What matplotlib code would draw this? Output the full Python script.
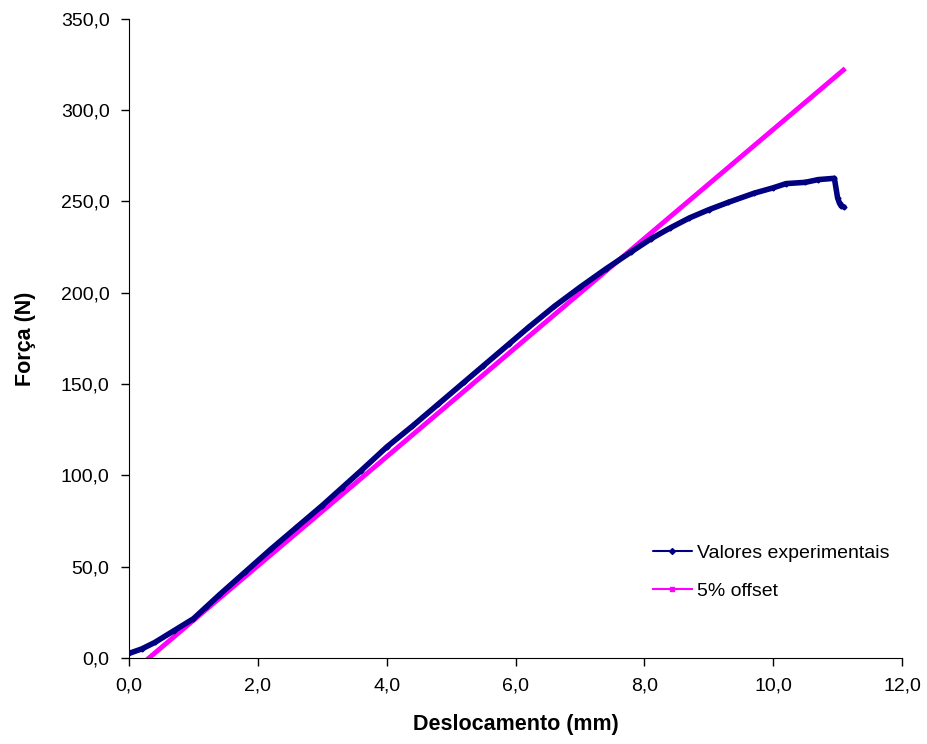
import matplotlib
matplotlib.use("Agg")
import matplotlib.pyplot as plt
from matplotlib.ticker import FuncFormatter

plt.rcParams['font.family'] = ['Liberation Sans', 'DejaVu Sans']

desloc = [0.0, 0.2, 0.4, 0.7, 1.0, 1.2, 1.4, 1.8, 2.2, 2.6, 3.0, 3.3, 3.6, 4.0,
          4.4, 4.8, 5.2, 5.5, 5.9, 6.2, 6.6, 7.0, 7.4, 7.8, 8.1, 8.4, 8.7, 9.0,
          9.3, 9.7, 10.0, 10.2, 10.5, 10.7, 10.95, 11.0, 11.03, 11.06, 11.1]
forca = [2.5, 5.0, 8.5, 15.0, 21.5, 28.0, 34.5, 47.0, 59.5, 71.5, 83.5, 93.0,
         102.5, 115.5, 127.0, 139.0, 151.0, 160.0, 172.0, 181.0, 192.5, 203.0,
         213.0, 222.5, 229.5, 235.5, 241.0, 245.5, 249.5, 254.5, 257.5, 259.8,
         260.5, 262.0, 262.7, 252.0, 249.0, 247.5, 247.0]

# reta 5% offset
offset_x = [0.31, 11.09]
offset_y = [0.0, 322.0]

fig = plt.figure(figsize=(9.28, 7.44), dpi=100)
ax = fig.add_axes([0.139, 0.1156, 0.833, 0.859])

ax.plot(desloc, forca, color="#000080", lw=4, marker="D", ms=2.5,
        solid_capstyle="round", solid_joinstyle="round",
        label="Valores experimentais", zorder=3)
ax.plot(offset_x, offset_y, color="#FF00FF", lw=3.5, marker="s", ms=2,
        label="5% offset", zorder=2)

ax.set_xlim(0, 12)
ax.set_ylim(0, 350)
ax.set_xticks(range(0, 13, 2))
ax.set_yticks(range(0, 351, 50))
fmt = FuncFormatter(lambda v, p: f"{v:.1f}".replace(".", ","))
ax.xaxis.set_major_formatter(fmt)
ax.yaxis.set_major_formatter(fmt)
ax.tick_params(direction="out", length=6, width=1, labelsize=14, pad=8)

for s in ["top", "right"]:
    ax.spines[s].set_visible(False)

ax.set_xlabel("Deslocamento (mm)", fontsize=15.5, fontweight="bold", labelpad=14)
ax.set_ylabel("Força (N)", fontsize=15.5, fontweight="bold", labelpad=18)

# legenda sem moldura
leg = ax.legend(loc="upper left", bbox_to_anchor=(0.655, 0.205), frameon=False,
                fontsize=14, handlelength=2.0, handletextpad=0.25,
                labelspacing=1.05)
for h in leg.legend_handles:
    h.set_linewidth(1.5)
    h.set_markersize(3)

fig.savefig("out.png", dpi=100)
